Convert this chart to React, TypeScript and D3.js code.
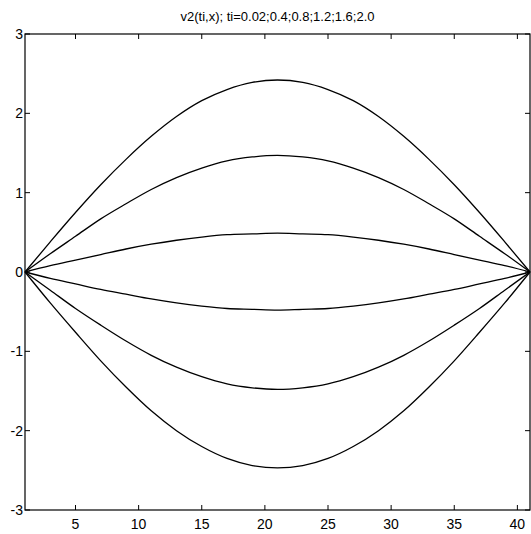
import React, { useEffect, useRef } from "react";
import * as d3 from "d3";

const xs = [1, 3, 5, 7, 9, 11, 13, 15, 17, 19, 21, 23, 25, 27, 29, 31, 33, 35, 37, 39, 41];

// one series per ti value
const s1 = [0, 0.38, 0.75, 1.1, 1.42, 1.71, 1.96, 2.16, 2.3, 2.39, 2.42, 2.39, 2.3, 2.16, 1.96, 1.71, 1.42, 1.1, 0.75, 0.38, 0];
const s2 = [0, 0.23, 0.45, 0.67, 0.86, 1.04, 1.19, 1.31, 1.4, 1.45, 1.47, 1.45, 1.4, 1.31, 1.19, 1.04, 0.86, 0.67, 0.45, 0.23, 0];
const s3 = [0, 0.08, 0.15, 0.22, 0.29, 0.35, 0.4, 0.44, 0.47, 0.48, 0.49, 0.48, 0.47, 0.44, 0.4, 0.35, 0.29, 0.22, 0.15, 0.08, 0];
const s4 = [0, -0.08, -0.15, -0.22, -0.28, -0.34, -0.39, -0.43, -0.46, -0.47, -0.48, -0.47, -0.46, -0.43, -0.39, -0.34, -0.28, -0.22, -0.15, -0.08, 0];
const s5 = [0, -0.23, -0.46, -0.67, -0.87, -1.05, -1.2, -1.32, -1.41, -1.46, -1.48, -1.46, -1.41, -1.32, -1.2, -1.05, -0.87, -0.67, -0.46, -0.23, 0];
const s6 = [0, -0.39, -0.76, -1.12, -1.45, -1.75, -2.0, -2.2, -2.35, -2.44, -2.47, -2.44, -2.35, -2.2, -2.0, -1.75, -1.45, -1.12, -0.76, -0.39, 0];

const xTicks = [5, 10, 15, 20, 25, 30, 35, 40];
const yTicks = [-3, -2, -1, 0, 1, 2, 3];
const title = "v2(ti,x); ti=0.02;0.4;0.8;1.2;1.6;2.0";

const W = 531, H = 534;

export default function App() {
  const ref = useRef<SVGSVGElement>(null);

  useEffect(() => {
    const svg = d3.select(ref.current);
    svg.selectAll("*").remove();

    const left = 25, right = 530, top = 34, bottom = 510;
    const x = d3.scaleLinear().domain([1, 41]).range([left, right]);
    const y = d3.scaleLinear().domain([-3, 3]).range([bottom, top]);
    const font = "Liberation Sans, Arial, sans-serif";

    // curves
    const line = d3.line<number>()
      .x((d, i) => x(xs[i]))
      .y(d => y(d))
      .curve(d3.curveMonotoneX);

    svg.append("g")
      .selectAll("path")
      .data([s1, s2, s3, s4, s5, s6])
      .enter()
      .append("path")
      .attr("fill", "none")
      .attr("stroke", "#000")
      .attr("stroke-width", 1.3)
      .attr("d", d => line(d));

    // box
    svg.append("rect")
      .attr("x", left).attr("y", top)
      .attr("width", right - left).attr("height", bottom - top)
      .attr("fill", "none").attr("stroke", "#000").attr("stroke-width", 1.2);

    // ticks inward on all four sides
    const tl = 5;
    const g = svg.append("g").attr("stroke", "#000").attr("stroke-width", 1);
    xTicks.forEach(t => {
      g.append("line").attr("x1", x(t)).attr("x2", x(t)).attr("y1", bottom).attr("y2", bottom - tl);
      g.append("line").attr("x1", x(t)).attr("x2", x(t)).attr("y1", top).attr("y2", top + tl);
    });
    yTicks.forEach(t => {
      g.append("line").attr("x1", left).attr("x2", left + tl).attr("y1", y(t)).attr("y2", y(t));
      g.append("line").attr("x1", right).attr("x2", right - tl).attr("y1", y(t)).attr("y2", y(t));
    });

    svg.append("g")
      .selectAll("text")
      .data(xTicks)
      .enter()
      .append("text")
      .attr("x", d => x(d))
      .attr("y", bottom + 19)
      .attr("text-anchor", "middle")
      .attr("font-family", font)
      .attr("font-size", 14)
      .text(d => d);

    svg.append("g")
      .selectAll("text")
      .data(yTicks)
      .enter()
      .append("text")
      .attr("x", left - 2)
      .attr("y", d => y(d) + 5)
      .attr("text-anchor", "end")
      .attr("font-family", font)
      .attr("font-size", 14)
      .text(d => d);

    svg.append("text")
      .attr("x", (left + right) / 2)
      .attr("y", 21)
      .attr("text-anchor", "middle")
      .attr("font-family", font)
      .attr("font-size", 13)
      .text(title);
  }, []);

  return (
    <svg ref={ref} width={W} height={H}
      style={{ position: "absolute", left: 0, top: 0, background: "#fff" }} />
  );
}
